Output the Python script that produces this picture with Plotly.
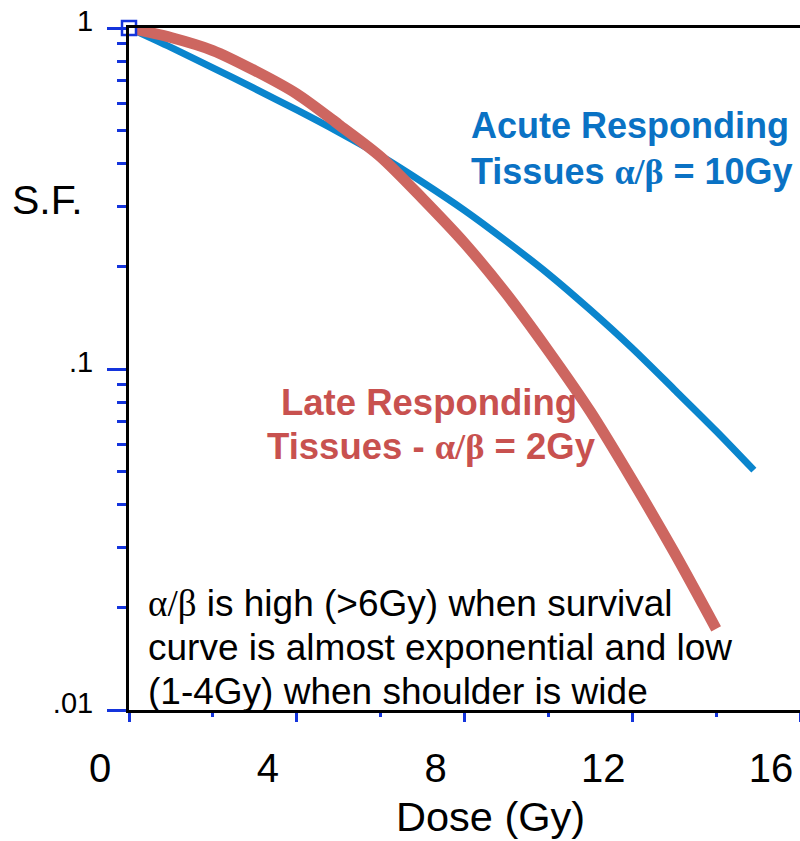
import plotly.graph_objects as go

# Survival fraction vs dose for two tissue types
acute_dose = [0, 1, 2, 3, 4, 5, 6, 7, 8, 9, 10, 11, 12, 13, 14, 14.9]
acute_sf = [1.0, 0.877, 0.764, 0.664, 0.575, 0.495, 0.422, 0.353, 0.292,
            0.237, 0.190, 0.149, 0.115, 0.0871, 0.0658, 0.0505]

late_dose = [0, 1, 2, 3, 4, 5, 6, 7, 8, 9, 10, 11, 12, 13, 14]
late_sf = [1.0, 0.938, 0.859, 0.750, 0.641, 0.521, 0.419, 0.316, 0.234,
           0.166, 0.113, 0.0750, 0.0472, 0.0290, 0.0173]

x_ticks = [0, 4, 8, 12, 16]
x_ticktext = ["0", "4", "8", "12", "16"]
x_minor = [2, 6, 10, 14]
y_ticks = [0.01, 0.1, 1]
y_ticktext = [".01", ".1", "1"]
y_minor = [0.02, 0.03, 0.04, 0.05, 0.06, 0.07, 0.08, 0.09,
           0.2, 0.3, 0.4, 0.5, 0.6, 0.7, 0.8, 0.9]

FONT = "Liberation Sans, Arial, Helvetica, sans-serif"
SERIF = "Liberation Serif, Times New Roman, serif"
TICK_BLUE = "#1434DC"
CURVE_BLUE = "#0A85CD"
CURVE_RED = "#CD6660"
TEXT_BLUE = "#0A72C4"
TEXT_RED = "#C8514F"

ab = f'<span style="font-family:{SERIF}">α/β</span>'

fig = go.Figure()
fig.add_trace(go.Scatter(
    x=acute_dose, y=acute_sf, mode="lines",
    line=dict(color=CURVE_BLUE, width=7, shape="spline", smoothing=0.8),
    hoverinfo="skip", showlegend=False))
fig.add_trace(go.Scatter(
    x=late_dose, y=late_sf, mode="lines",
    line=dict(color=CURVE_RED, width=11, shape="spline", smoothing=0.8),
    hoverinfo="skip", showlegend=False))

# origin marker at dose 0, S.F. 1
fig.add_trace(go.Scatter(
    x=[acute_dose[0]], y=[acute_sf[0]], mode="markers", cliponaxis=False,
    marker=dict(symbol="square", size=14, color="white",
                line=dict(color=TICK_BLUE, width=2.5)),
    hoverinfo="skip", showlegend=False))


def px_x(px):
    return (px - 129) / 671


def px_y(py):
    return (710 - py) / 682


def label(text, px, py, size, color="black", bold=False, xanchor="center"):
    fig.add_annotation(
        text=text, xref="paper", yref="paper", x=px_x(px), y=px_y(py),
        xanchor=xanchor, yanchor="middle", showarrow=False,
        font=dict(family=FONT, size=size, color=color,
                  weight="bold" if bold else "normal"))


label("Acute Responding", 630, 126, 36, TEXT_BLUE, True)
label(f"Tissues {ab} = 10Gy", 632, 171, 36, TEXT_BLUE, True)
label("Late Responding", 429, 403, 36.5, TEXT_RED, True)
label(f"Tissues - {ab} = 2Gy", 431, 446, 36.5, TEXT_RED, True)
label(f"{ab} is high (>6Gy) when survival", 146, 603, 37, xanchor="left")
label("curve is almost exponential and low", 146, 647, 37, xanchor="left")
label("(1-4Gy) when shoulder is wide", 146, 691, 37, xanchor="left")
label("S.F.", 47, 200, 41)
label("Dose (Gy)", 490, 816, 41.5)

fig.update_layout(
    width=800, height=841, autosize=False,
    margin=dict(l=129, r=0, t=28, b=131, pad=0),
    plot_bgcolor="white", paper_bgcolor="white",
    font=dict(family=FONT, color="black"),
    xaxis=dict(
        range=[0, 16], tickvals=x_ticks, ticktext=x_ticktext,
        ticks="outside", ticklen=9, tickwidth=3, tickcolor=TICK_BLUE,
        showline=True, linecolor="black", linewidth=3, mirror=True,
        showgrid=False, zeroline=False,
        tickfont=dict(size=40, family=FONT, color="black"),
        ticklabelshift=-29, ticklabelstandoff=12,
        minor=dict(tickvals=x_minor, ticks="outside", ticklen=4,
                   tickwidth=3, tickcolor=TICK_BLUE, showgrid=False),
    ),
    yaxis=dict(
        type="log", range=[-2, 0], tickvals=y_ticks, ticktext=y_ticktext,
        ticks="outside", ticklen=19, tickwidth=3, tickcolor=TICK_BLUE,
        showline=True, linecolor="black", linewidth=3,
        showgrid=False, zeroline=False,
        tickfont=dict(size=29, family=FONT, color="black"),
        ticklabelshift=-7, ticklabelstandoff=8,
        minor=dict(tickvals=y_minor, ticks="outside", ticklen=9,
                   tickwidth=3, tickcolor=TICK_BLUE, showgrid=False),
    ),
)

fig.write_html("out.html")
